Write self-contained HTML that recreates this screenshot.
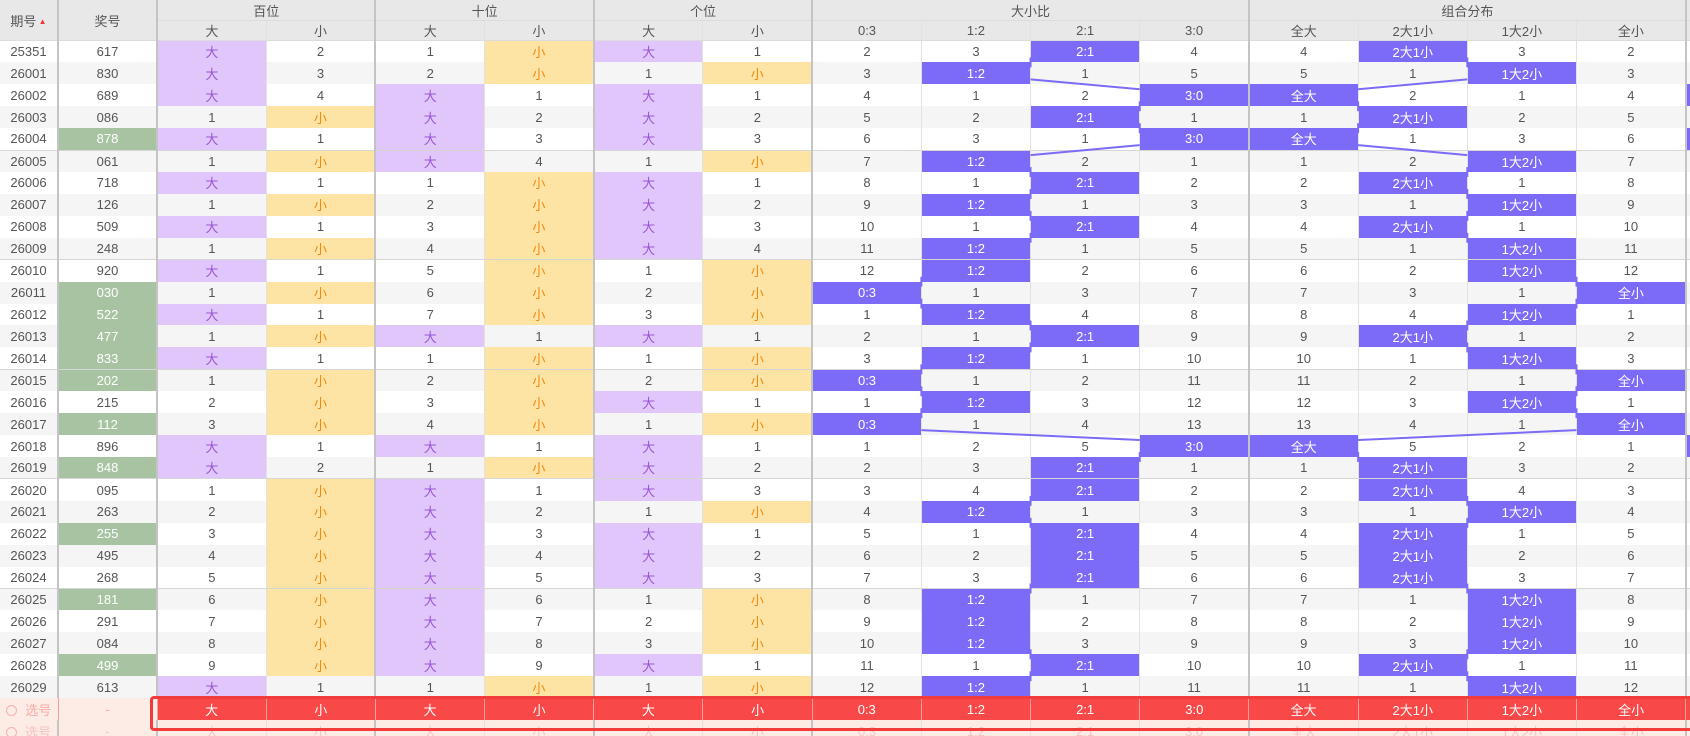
<!DOCTYPE html>
<html><head><meta charset="utf-8">
<style>
html,body{margin:0;padding:0;background:#fff;width:1690px;height:736px;overflow:hidden;position:relative}
table{border-collapse:collapse;table-layout:fixed;width:1786px;position:absolute;left:0;top:0;font-family:"Liberation Sans","Noto Sans CJK SC",sans-serif;font-size:13px;color:#555}
td,th{padding:0;text-align:center;border-right:1px solid #e2e2e2;white-space:nowrap;overflow:hidden;font-weight:normal}
thead th{background:#e8e8e8;color:#555;height:20px;border-bottom:1px solid #dcdcdc}
thead tr.h2 th{height:19px}
tbody tr{height:21.93px}
tbody tr:nth-child(even){background:#f5f5f5}
tbody tr.b5 td{border-bottom:1px solid #d6d6d6}
.G{border-right:2px solid #c4c4c4!important}
tbody td:nth-child(1),tbody td:nth-child(2),tbody td:nth-child(4),tbody td:nth-child(6),tbody td:nth-child(8),tbody td:nth-child(12),tbody td:nth-child(16){border-right:2px solid #c4c4c4}
td.d{background:#e0c6fb;color:#9a55d6}
td.x{background:#fde4a4;color:#f18a10}
td.p{background:#7c6bf7;color:#fff}
td.g{background:#a7c3a1;color:#fff}
tr.sel td{background:#f94848;color:#fff;border-right:1px solid #f8a0a0}
tr.sel td.pk,tr.sel2 td{background:#fdebe5;color:#f7a9a9}
tr.sel2 td{color:#f8c2c2}
.arr{font-size:8px;color:#e33;vertical-align:2px}
#box{position:absolute;left:150px;top:696px;width:1545px;height:29px;border:3px solid #f23c3c;border-radius:4px;box-sizing:content-box}
svg{position:absolute;left:0;top:0}
.circ{display:inline-block;width:9px;height:9px;border:1px solid #f7b0b0;border-radius:50%;vertical-align:-1px;margin-right:8px}
</style></head><body>
<table>
<colgroup><col style="width:58px"><col style="width:99px"><col span="14" style="width:109.2px"><col style="width:100px"></colgroup>
<thead>
<tr><th rowspan="2" class="G">期号<span class="arr"> ▲</span></th><th rowspan="2" class="G">奖号</th><th colspan="2" class="G">百位</th><th colspan="2" class="G">十位</th><th colspan="2" class="G">个位</th><th colspan="4" class="G">大小比</th><th colspan="4" class="G">组合分布</th><th></th></tr>
<tr class="h2"><th>大</th><th class="G">小</th><th>大</th><th class="G">小</th><th>大</th><th class="G">小</th><th>0:3</th><th>1:2</th><th>2:1</th><th class="G">3:0</th><th>全大</th><th>2大1小</th><th>1大2小</th><th class="G">全小</th><th></th></tr>
</thead>
<tbody>
<tr class="r"><td>25351</td><td>617</td><td class="d">大</td><td>2</td><td>1</td><td class="x">小</td><td class="d">大</td><td>1</td><td>2</td><td>3</td><td class="p">2:1</td><td>4</td><td>4</td><td class="p">2大1小</td><td>3</td><td>2</td><td></td></tr>
<tr class="r"><td>26001</td><td>830</td><td class="d">大</td><td>3</td><td>2</td><td class="x">小</td><td>1</td><td class="x">小</td><td>3</td><td class="p">1:2</td><td>1</td><td>5</td><td>5</td><td>1</td><td class="p">1大2小</td><td>3</td><td></td></tr>
<tr class="r"><td>26002</td><td>689</td><td class="d">大</td><td>4</td><td class="d">大</td><td>1</td><td class="d">大</td><td>1</td><td>4</td><td>1</td><td>2</td><td class="p">3:0</td><td class="p">全大</td><td>2</td><td>1</td><td>4</td><td class="p"></td></tr>
<tr class="r"><td>26003</td><td>086</td><td>1</td><td class="x">小</td><td class="d">大</td><td>2</td><td class="d">大</td><td>2</td><td>5</td><td>2</td><td class="p">2:1</td><td>1</td><td>1</td><td class="p">2大1小</td><td>2</td><td>5</td><td></td></tr>
<tr class="r b5"><td>26004</td><td class="g">878</td><td class="d">大</td><td>1</td><td class="d">大</td><td>3</td><td class="d">大</td><td>3</td><td>6</td><td>3</td><td>1</td><td class="p">3:0</td><td class="p">全大</td><td>1</td><td>3</td><td>6</td><td class="p"></td></tr>
<tr class="r"><td>26005</td><td>061</td><td>1</td><td class="x">小</td><td class="d">大</td><td>4</td><td>1</td><td class="x">小</td><td>7</td><td class="p">1:2</td><td>2</td><td>1</td><td>1</td><td>2</td><td class="p">1大2小</td><td>7</td><td></td></tr>
<tr class="r"><td>26006</td><td>718</td><td class="d">大</td><td>1</td><td>1</td><td class="x">小</td><td class="d">大</td><td>1</td><td>8</td><td>1</td><td class="p">2:1</td><td>2</td><td>2</td><td class="p">2大1小</td><td>1</td><td>8</td><td></td></tr>
<tr class="r"><td>26007</td><td>126</td><td>1</td><td class="x">小</td><td>2</td><td class="x">小</td><td class="d">大</td><td>2</td><td>9</td><td class="p">1:2</td><td>1</td><td>3</td><td>3</td><td>1</td><td class="p">1大2小</td><td>9</td><td></td></tr>
<tr class="r"><td>26008</td><td>509</td><td class="d">大</td><td>1</td><td>3</td><td class="x">小</td><td class="d">大</td><td>3</td><td>10</td><td>1</td><td class="p">2:1</td><td>4</td><td>4</td><td class="p">2大1小</td><td>1</td><td>10</td><td></td></tr>
<tr class="r b5"><td>26009</td><td>248</td><td>1</td><td class="x">小</td><td>4</td><td class="x">小</td><td class="d">大</td><td>4</td><td>11</td><td class="p">1:2</td><td>1</td><td>5</td><td>5</td><td>1</td><td class="p">1大2小</td><td>11</td><td></td></tr>
<tr class="r"><td>26010</td><td>920</td><td class="d">大</td><td>1</td><td>5</td><td class="x">小</td><td>1</td><td class="x">小</td><td>12</td><td class="p">1:2</td><td>2</td><td>6</td><td>6</td><td>2</td><td class="p">1大2小</td><td>12</td><td></td></tr>
<tr class="r"><td>26011</td><td class="g">030</td><td>1</td><td class="x">小</td><td>6</td><td class="x">小</td><td>2</td><td class="x">小</td><td class="p">0:3</td><td>1</td><td>3</td><td>7</td><td>7</td><td>3</td><td>1</td><td class="p">全小</td><td></td></tr>
<tr class="r"><td>26012</td><td class="g">522</td><td class="d">大</td><td>1</td><td>7</td><td class="x">小</td><td>3</td><td class="x">小</td><td>1</td><td class="p">1:2</td><td>4</td><td>8</td><td>8</td><td>4</td><td class="p">1大2小</td><td>1</td><td></td></tr>
<tr class="r"><td>26013</td><td class="g">477</td><td>1</td><td class="x">小</td><td class="d">大</td><td>1</td><td class="d">大</td><td>1</td><td>2</td><td>1</td><td class="p">2:1</td><td>9</td><td>9</td><td class="p">2大1小</td><td>1</td><td>2</td><td></td></tr>
<tr class="r b5"><td>26014</td><td class="g">833</td><td class="d">大</td><td>1</td><td>1</td><td class="x">小</td><td>1</td><td class="x">小</td><td>3</td><td class="p">1:2</td><td>1</td><td>10</td><td>10</td><td>1</td><td class="p">1大2小</td><td>3</td><td></td></tr>
<tr class="r"><td>26015</td><td class="g">202</td><td>1</td><td class="x">小</td><td>2</td><td class="x">小</td><td>2</td><td class="x">小</td><td class="p">0:3</td><td>1</td><td>2</td><td>11</td><td>11</td><td>2</td><td>1</td><td class="p">全小</td><td></td></tr>
<tr class="r"><td>26016</td><td>215</td><td>2</td><td class="x">小</td><td>3</td><td class="x">小</td><td class="d">大</td><td>1</td><td>1</td><td class="p">1:2</td><td>3</td><td>12</td><td>12</td><td>3</td><td class="p">1大2小</td><td>1</td><td></td></tr>
<tr class="r"><td>26017</td><td class="g">112</td><td>3</td><td class="x">小</td><td>4</td><td class="x">小</td><td>1</td><td class="x">小</td><td class="p">0:3</td><td>1</td><td>4</td><td>13</td><td>13</td><td>4</td><td>1</td><td class="p">全小</td><td></td></tr>
<tr class="r"><td>26018</td><td>896</td><td class="d">大</td><td>1</td><td class="d">大</td><td>1</td><td class="d">大</td><td>1</td><td>1</td><td>2</td><td>5</td><td class="p">3:0</td><td class="p">全大</td><td>5</td><td>2</td><td>1</td><td class="p"></td></tr>
<tr class="r b5"><td>26019</td><td class="g">848</td><td class="d">大</td><td>2</td><td>1</td><td class="x">小</td><td class="d">大</td><td>2</td><td>2</td><td>3</td><td class="p">2:1</td><td>1</td><td>1</td><td class="p">2大1小</td><td>3</td><td>2</td><td></td></tr>
<tr class="r"><td>26020</td><td>095</td><td>1</td><td class="x">小</td><td class="d">大</td><td>1</td><td class="d">大</td><td>3</td><td>3</td><td>4</td><td class="p">2:1</td><td>2</td><td>2</td><td class="p">2大1小</td><td>4</td><td>3</td><td></td></tr>
<tr class="r"><td>26021</td><td>263</td><td>2</td><td class="x">小</td><td class="d">大</td><td>2</td><td>1</td><td class="x">小</td><td>4</td><td class="p">1:2</td><td>1</td><td>3</td><td>3</td><td>1</td><td class="p">1大2小</td><td>4</td><td></td></tr>
<tr class="r"><td>26022</td><td class="g">255</td><td>3</td><td class="x">小</td><td class="d">大</td><td>3</td><td class="d">大</td><td>1</td><td>5</td><td>1</td><td class="p">2:1</td><td>4</td><td>4</td><td class="p">2大1小</td><td>1</td><td>5</td><td></td></tr>
<tr class="r"><td>26023</td><td>495</td><td>4</td><td class="x">小</td><td class="d">大</td><td>4</td><td class="d">大</td><td>2</td><td>6</td><td>2</td><td class="p">2:1</td><td>5</td><td>5</td><td class="p">2大1小</td><td>2</td><td>6</td><td></td></tr>
<tr class="r b5"><td>26024</td><td>268</td><td>5</td><td class="x">小</td><td class="d">大</td><td>5</td><td class="d">大</td><td>3</td><td>7</td><td>3</td><td class="p">2:1</td><td>6</td><td>6</td><td class="p">2大1小</td><td>3</td><td>7</td><td></td></tr>
<tr class="r"><td>26025</td><td class="g">181</td><td>6</td><td class="x">小</td><td class="d">大</td><td>6</td><td>1</td><td class="x">小</td><td>8</td><td class="p">1:2</td><td>1</td><td>7</td><td>7</td><td>1</td><td class="p">1大2小</td><td>8</td><td></td></tr>
<tr class="r"><td>26026</td><td>291</td><td>7</td><td class="x">小</td><td class="d">大</td><td>7</td><td>2</td><td class="x">小</td><td>9</td><td class="p">1:2</td><td>2</td><td>8</td><td>8</td><td>2</td><td class="p">1大2小</td><td>9</td><td></td></tr>
<tr class="r"><td>26027</td><td>084</td><td>8</td><td class="x">小</td><td class="d">大</td><td>8</td><td>3</td><td class="x">小</td><td>10</td><td class="p">1:2</td><td>3</td><td>9</td><td>9</td><td>3</td><td class="p">1大2小</td><td>10</td><td></td></tr>
<tr class="r"><td>26028</td><td class="g">499</td><td>9</td><td class="x">小</td><td class="d">大</td><td>9</td><td class="d">大</td><td>1</td><td>11</td><td>1</td><td class="p">2:1</td><td>10</td><td>10</td><td class="p">2大1小</td><td>1</td><td>11</td><td></td></tr>
<tr class="r"><td>26029</td><td>613</td><td class="d">大</td><td>1</td><td>1</td><td class="x">小</td><td>1</td><td class="x">小</td><td>12</td><td class="p">1:2</td><td>1</td><td>11</td><td>11</td><td>1</td><td class="p">1大2小</td><td>12</td><td></td></tr>
<tr class="sel"><td class="pk"><span class="circ"></span>选号</td><td class="pk">-</td><td>大</td><td>小</td><td>大</td><td>小</td><td>大</td><td>小</td><td>0:3</td><td>1:2</td><td>2:1</td><td>3:0</td><td>全大</td><td>2大1小</td><td>1大2小</td><td>全小</td><td></td></tr>
<tr class="sel2"><td><span class="circ"></span>选号</td><td>-</td><td>大</td><td>小</td><td>大</td><td>小</td><td>大</td><td>小</td><td>0:3</td><td>1:2</td><td>2:1</td><td>3:0</td><td>全大</td><td>2大1小</td><td>1大2小</td><td>全小</td><td></td></tr>
</tbody>
</table>
<svg id="ov" width="1690" height="736"></svg>
<div id="box"></div>
<script>
(function(){
var rows=[].slice.call(document.querySelectorAll('tr.r'));
var svg=document.getElementById('ov');var out='';
[8,12].forEach(function(s){
 var prev=null;
 rows.forEach(function(tr){
  var c=tr.children,cell=null;
  for(var j=0;j<4;j++){if(c[s+j].classList.contains('p')){cell=c[s+j];break;}}
  if(!cell)return;
  var r=cell.getBoundingClientRect();
  if(prev){
   var cy1=(prev.top+prev.bottom)/2+6,cy2=(r.top+r.bottom)/2-6,x1,x2;
   if(r.left>prev.left+1){x1=prev.right;x2=r.left;}
   else if(r.left<prev.left-1){x1=prev.left;x2=r.right;}
   else{prev=r;return;}
   out+='<line x1="'+x1+'" y1="'+cy1+'" x2="'+x2+'" y2="'+cy2+'" stroke="#7c6bf7" stroke-width="2"/>';
  }
  prev=r;
 });
});
svg.innerHTML=out;
})();
</script>
</body></html>
